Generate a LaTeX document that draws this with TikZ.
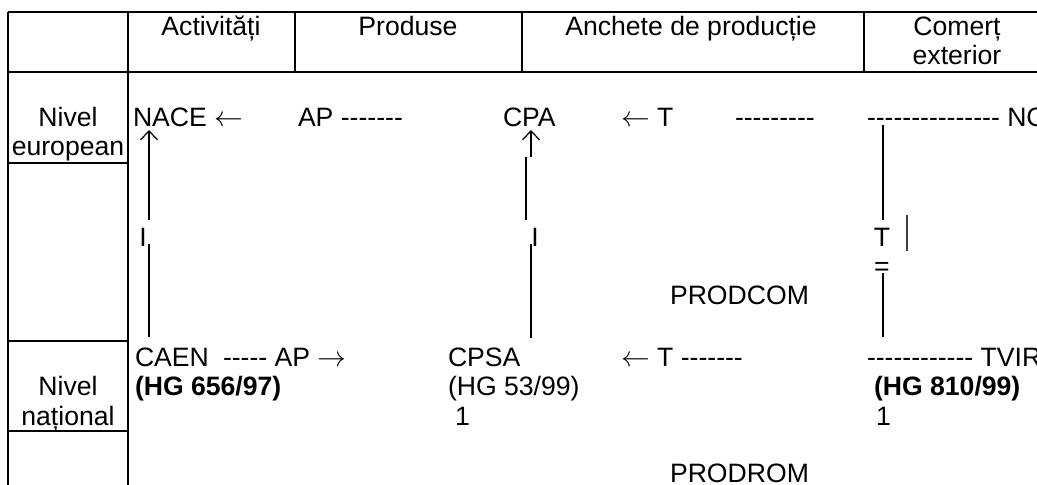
\documentclass[tikz,border=0pt]{standalone}
\usepackage{fontspec}
\newfontfamily\arial{Liberation Sans}
\usetikzlibrary{arrows.meta}
\newcommand\larr{{\fontsize{14.5}{14.5}\selectfont$\leftarrow$}}
\newcommand\rarr{{\fontsize{14.5}{14.5}\selectfont$\rightarrow$}}
\begin{document}
\begin{tikzpicture}[x=0.5pt,y=-0.5pt,
  grid/.style={line width=1pt},
  txt/.style={inner sep=0pt, outer sep=0pt, anchor=base west, font=\arial\fontsize{13.3}{16}\selectfont},
  ctxt/.style={txt, anchor=base},
  btxt/.style={txt, font=\arial\bfseries\fontsize{13.3}{16}\selectfont},
  link/.style={line width=0.6pt},
  uparrow/.style={link, -{Straight Barb[length=4.5pt,width=8.5pt]}},
  bar/.style={line width=1pt, black!75}]
\useasboundingbox (0,0) rectangle (1037,485);
\clip (0,0) rectangle (1037,485);
% table
\draw[grid] (8,12) -- (1045,12);
\draw[grid] (8,72) -- (1045,72);
\draw[grid] (8,12) -- (8,495);
\draw[grid] (128,12) -- (128,495);
\draw[grid] (295,12) -- (295,72);
\draw[grid] (522,12) -- (522,72);
\draw[grid] (864,12) -- (864,72);
\draw[grid] (8,163) -- (128,163);
\draw[grid] (8,341) -- (128,341);
\draw[grid] (8,431) -- (128,431);
% header
\node[ctxt] (hAct) at (211,36) {Activități};
\node[ctxt] (hProd) at (408,36) {Produse};
\node[ctxt] (hAnch) at (691,36) {Anchete de producție};
\node[ctxt] (hCom1) at (957,36) {Comerț};
\node[ctxt] (hCom2) at (957,65) {exterior};
% left labels
\node[ctxt] (eu1) at (68,127) {Nivel};
\node[ctxt] (eu2) at (68,156) {european};
\node[ctxt] (na1) at (68,396) {Nivel};
\node[ctxt] (na2) at (68,425) {național};
% row 1
\node[txt] (nace) at (133,127) {NACE \larr};
\node[txt] (ap1) at (298,127) {AP -------};
\node[txt] (cpa) at (503,127) {CPA};
\node[txt] (t1) at (621,127) {\larr\ T};
\node[txt] (d1) at (735,127) {---------};
\node[txt] (nc) at (867,127) {--------------- NC};
% row 2
\node[txt] (caen) at (135,367) {CAEN};
\node[txt] (ap2) at (223,367) {----- AP \rarr};
\node[txt] (cpsa) at (448,367) {CPSA};
\node[txt] (t2) at (621,367) {\larr\ T -------};
\node[txt] (tvir) at (867,367) {------------ TVIR};
\node[btxt] (hg1) at (135,396) {(HG 656/97)};
\node[txt] (hg2) at (448,396) {(HG 53/99)};
\node[txt] (one1) at (455,425) {1};
\node[btxt] (hg3) at (874,396) {(HG 810/99)};
\node[txt] (one2) at (876,425) {1};
\node[txt] (prodcom) at (670,305) {PRODCOM};
\node[txt] (prodrom) at (670,482) {PRODROM};
% vertical labels
\node[ctxt] (iA) at (143,247) {I};
\node[ctxt] (iB) at (535,247) {I};
\node[ctxt] (tC) at (882,247) {T};
\node[ctxt] (eqC) at (882,276) {=};
% connector points
\coordinate (a1) at (149,130);
\coordinate (a2) at (149,220);
\coordinate (a3) at (149,244);
\coordinate (a4) at (149,337);
\coordinate (b1) at (531,130);
\coordinate (b2) at (531,157);
\coordinate (b3) at (526,157);
\coordinate (b4) at (526,220);
\coordinate (b5) at (531,244);
\coordinate (b6) at (531,338);
\coordinate (c1) at (883,125);
\coordinate (c2) at (883,220);
\coordinate (c3) at (883,273);
\coordinate (c4) at (883,337);
\coordinate (d1a) at (907,215);
\coordinate (d1b) at (907,251);
% connectors
\draw[uparrow] (a2) -- (a1);
\draw[link] (a3) -- (a4);
\draw[uparrow] (b2) -- (b1);
\draw[link] (b3) -- (b4);
\draw[link] (b5) -- (b6);
\draw[link] (c1) -- (c2);
\draw[link] (c3) -- (c4);
\draw[bar] (d1a) -- (d1b);
\end{tikzpicture}
\end{document}
